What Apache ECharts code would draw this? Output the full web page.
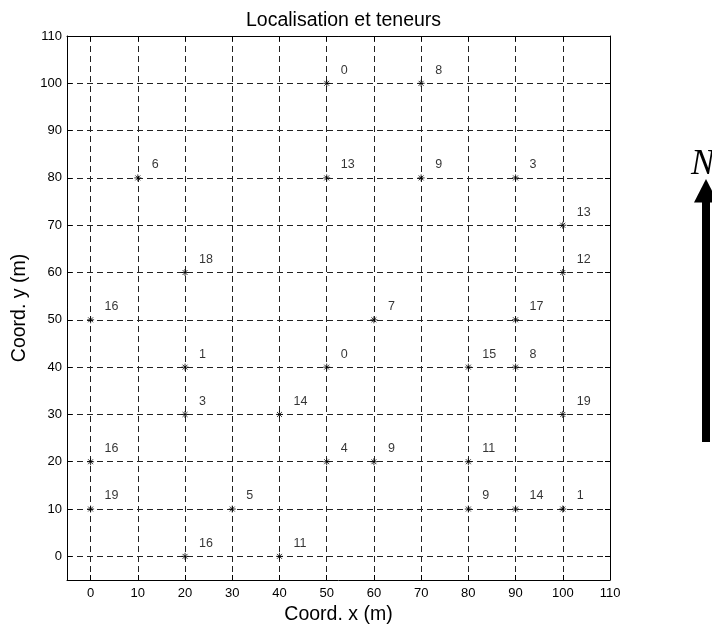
<!DOCTYPE html>
<html>
<head>
<meta charset="utf-8">
<script src="https://cdn.jsdelivr.net/npm/echarts@6/dist/echarts.min.js"></script>
<style>html,body{margin:0;padding:0;background:#fff}#c{width:712px;height:627px}</style>
</head>
<body>
<div id="c"></div>
<script>
const xs = [50,70,10,50,70,90,100,20,100,0,60,90,20,50,80,90,20,40,100,0,50,60,80,0,30,80,90,100,20,40];
const ys = [100,100,80,80,80,80,70,60,60,50,50,50,40,40,40,40,30,30,30,20,20,20,20,10,10,10,10,10,0,0];
const teneurs = [0,8,6,13,9,3,13,18,12,16,7,17,1,0,15,8,3,14,19,16,4,9,11,19,5,9,14,1,16,11];
const tickValues = [0,10,20,30,40,50,60,70,80,90,100,110];
const titleText = 'Localisation et teneurs';
const xName = 'Coord. x (m)';
const yName = 'Coord. y (m)';

const font = 'Liberation Sans';
const data = xs.map((x,i)=>[x, ys[i], teneurs[i]]);

function mkAxis(pos, isX, showLabel, name){
  return {
    type:'value', position:pos, min:-5, max:110,
    name: name || '', nameLocation:'middle',
    nameGap: isX ? 25 : 34,
    nameTextStyle:{fontFamily:font, fontSize:19.5, color:'#000'},
    axisLine:{show:true, onZero:false, lineStyle:{color:'#000', width:1}},
    axisTick:{show:true, inside:true, length:5, customValues:tickValues, lineStyle:{color:'#000'}},
    axisLabel:{show:showLabel, customValues:tickValues, margin: isX ? 7 : 5, fontFamily:font, fontSize:13, color:'#000'},
    splitLine:{show:showLabel, lineStyle:{color:'#222', type:[6,4], width:1}}
  };
}

const chart = echarts.init(document.getElementById('c'), null, {renderer:'canvas'});
chart.setOption({
  animation:false,
  backgroundColor:'#fff',
  title:{text:titleText, left:338.5, textAlign:'center', top:6,
    textStyle:{fontFamily:font, fontSize:19.5, fontWeight:'normal', color:'#000'}},
  grid:{left:67, top:36, width:543, height:544, containLabel:false, outerBoundsMode:'none'},
  xAxis:[mkAxis('bottom', true, true, xName), mkAxis('top', true, false)],
  yAxis:[mkAxis('left', false, true, yName), mkAxis('right', false, false)],
  series:[{
    type:'scatter', data:data,
    symbol:'path://M0,-1L0,1M-1,0L1,0M-0.7,-0.7L0.7,0.7M-0.7,0.7L0.7,-0.7',
    symbolSize:7,
    itemStyle:{color:'none', borderColor:'#000', borderWidth:1},
    label:{show:true, position:'right', distance:5, offset:[3,-13],
      formatter:p=>String(p.value[2]), fontFamily:font, fontSize:12.5, color:'#000'}
  }],
  graphic:[
    {type:'rect', shape:{x:702, y:200, width:8, height:242}, style:{fill:'#000'}},
    {type:'polygon', shape:{points:[[694,202.5],[706,179],[718,202.5]]}, style:{fill:'#000'}},
    {type:'text', left:691, top:147, style:{text:'N', font:'italic 35px "Liberation Serif"', fill:'#000'}}
  ]
});
</script>
</body>
</html>
